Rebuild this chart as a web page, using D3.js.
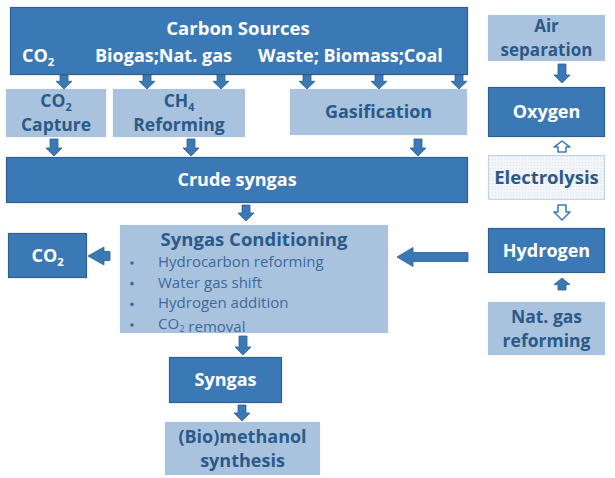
<!DOCTYPE html>
<html lang="en">
<head>
  <meta charset="UTF-8">
  <title>Methanol from syngas</title>
  <script src="https://d3js.org/d3.v7.min.js"></script>
  <style>
    body { margin: 0; background: #fff; }
    svg text { font-family: "Open Sans", Lato, sans-serif; }
  </style>
</head>
<body>
<div id="chart"></div>
<script>
  // labels (underscore marks a subscript digit)
  const sourceTitle = "Carbon Sources"
  const sourceLabels = ["CO_2", "Biogas;Nat. gas", "Waste; Biomass;Coal"]
  const processLabels = [["CO_2", "Capture"], ["CH_4", "Reforming"], ["Gasification"]]
  const crudeLabel = ["Crude syngas"]
  const conditioningTitle = "Syngas Conditioning"
  const conditioningSteps = ["Hydrocarbon reforming", "Water gas shift", "Hydrogen addition", "CO_2 removal"]
  const co2OutLabel = ["CO_2"]
  const syngasLabel = ["Syngas"]
  const productLabel = ["(Bio)methanol", "synthesis"]
  const sideLabels = [["Air", "separation"], ["Oxygen"], ["Electrolysis"], ["Hydrogen"], ["Nat. gas", "reforming"]]

  const W = 615, H = 478
  const DARK = "#3b79b6", DARK_EDGE = "#2d5f91", LIGHT = "#a9c3df", NAVY = "#2b5a88"

  const svg = d3.select("#chart").append("svg").attr("width", W).attr("height", H)

  // faint dotted texture for the electrolysis box
  const pat = svg.append("defs").append("pattern")
    .attr("id", "dots").attr("width", 3).attr("height", 3)
    .attr("patternUnits", "userSpaceOnUse")
  pat.append("rect").attr("width", 3).attr("height", 3).attr("fill", "#f1f4f9")
  pat.append("rect").attr("width", 1).attr("height", 1).attr("fill", "#dde5ef")

  // box layout
  const boxes = [
    {x: 10, y: 7, w: 458, h: 68, kind: "dark", lines: [], size: 18},
    {x: 6, y: 89, w: 100, h: 48, kind: "light", lines: processLabels[0], size: 17.5},
    {x: 113, y: 89, w: 132, h: 48, kind: "light", lines: processLabels[1], size: 17.5},
    {x: 290, y: 89, w: 177, h: 46, kind: "light", lines: processLabels[2], size: 18},
    {x: 6, y: 157, w: 462, h: 46, kind: "dark", lines: crudeLabel, size: 18},
    {x: 120, y: 225, w: 268, h: 108, kind: "light", lines: [], size: 18},
    {x: 8, y: 233, w: 79, h: 45, kind: "dark", lines: co2OutLabel, size: 18},
    {x: 169, y: 357, w: 113, h: 46, kind: "dark", lines: syngasLabel, size: 18},
    {x: 165, y: 422, w: 155, h: 53, kind: "light", lines: productLabel, size: 18},
    {x: 488, y: 15, w: 117, h: 46, kind: "light", lines: sideLabels[0], size: 17},
    {x: 488, y: 87, w: 117, h: 50, kind: "dark", lines: sideLabels[1], size: 18},
    {x: 488, y: 155, w: 117, h: 45, kind: "pale", lines: sideLabels[2], size: 18.5},
    {x: 488, y: 228, w: 117, h: 45, kind: "dark", lines: sideLabels[3], size: 18},
    {x: 488, y: 302, w: 117, h: 53, kind: "light", lines: sideLabels[4], size: 17.5}
  ]

  // arrows: centre x, start y, end y (or x for horizontal), style
  const arrows = [
    {x: 64, y0: 75, y1: 89}, {x: 147, y0: 75, y1: 89}, {x: 221, y0: 75, y1: 89},
    {x: 307, y0: 75, y1: 89}, {x: 379, y0: 75, y1: 89}, {x: 459, y0: 75, y1: 89},
    {x: 54, y0: 139, y1: 156}, {x: 191, y0: 139, y1: 156}, {x: 418, y0: 139, y1: 156},
    {x: 246, y0: 205, y1: 221},
    {x: 243, y0: 336, y1: 355},
    {x: 242, y0: 405, y1: 421},
    {x: 562, y0: 64, y1: 83},
    {x: 562, y0: 152, y1: 141, hollow: true},
    {x: 562, y0: 205, y1: 220, hollow: true},
    {x: 562, y0: 290, y1: 278},
    {y: 256, x0: 110, x1: 88, head: 16, shaft: 9, headW: 18},
    {y: 257, x0: 468, x1: 397, head: 16, shaft: 9, headW: 19}
  ]

  const fills = {dark: DARK, light: LIGHT, pale: "url(#dots)"}
  const edges = {dark: DARK_EDGE, light: LIGHT, pale: "#c5d3e4"}
  const inks = {dark: "#ffffff", light: NAVY, pale: NAVY}

  svg.selectAll("rect.box")
    .data(boxes)
    .join("rect")
    .attr("class", "box")
    .attr("x", d => d.x + 0.5).attr("y", d => d.y + 0.5)
    .attr("width", d => d.w - 1).attr("height", d => d.h - 1)
    .attr("fill", d => fills[d.kind])
    .attr("stroke", d => edges[d.kind])
    .attr("stroke-width", 1.2)

  // text with subscripts
  function addLabel(sel, str, size) {
    const parts = str.split(/_(\d)/)
    parts.forEach((p, i) => {
      if (!p) return
      if (i % 2 === 1) {
        sel.append("tspan").attr("font-size", size * 0.62).attr("dy", size * 0.2).text(p)
        sel.append("tspan").attr("dy", -size * 0.2).text("")
      } else {
        sel.append("tspan").text(p)
      }
    })
  }

  boxes.forEach(b => {
    const n = b.lines.length
    const lh = b.size * 1.38
    b.lines.forEach((ln, i) => {
      const t = svg.append("text")
        .attr("x", b.x + b.w / 2)
        .attr("y", b.y + b.h / 2 + (i - (n - 1) / 2) * lh + b.size * 0.36)
        .attr("text-anchor", "middle")
        .attr("font-size", b.size)
        .attr("font-weight", "bold")
        .attr("fill", inks[b.kind])
      addLabel(t, ln, b.size)
    })
  })

  // carbon sources header
  svg.append("text").attr("x", 238).attr("y", 35)
    .attr("text-anchor", "middle").attr("font-size", 18.5).attr("font-weight", "bold")
    .attr("fill", "#fff").text(sourceTitle)
  const srcX = [22, 95, 258]
  sourceLabels.forEach((s, i) => {
    const t = svg.append("text").attr("x", srcX[i]).attr("y", 62)
      .attr("font-size", 18).attr("font-weight", "bold").attr("fill", "#fff")
    addLabel(t, s, 18)
  })

  // syngas conditioning contents
  svg.append("text").attr("x", 254).attr("y", 246)
    .attr("text-anchor", "middle").attr("font-size", 18.5).attr("font-weight", "bold")
    .attr("fill", NAVY).text(conditioningTitle)
  const stepY = d3.scalePoint().domain(conditioningSteps).range([267, 329])
  conditioningSteps.forEach(s => {
    svg.append("circle").attr("cx", 132).attr("cy", stepY(s) - 4).attr("r", 1.8).attr("fill", "#3c6a98")
    const t = svg.append("text").attr("x", 158).attr("y", stepY(s))
      .attr("font-size", 15).attr("fill", "#3c6a98")
    addLabel(t, s, 15)
  })

  // block arrows
  function vArrow(a) {
    const dir = a.y1 > a.y0 ? 1 : -1
    const len = Math.abs(a.y1 - a.y0)
    const sw = 4, hw = 8, hl = Math.min(8, len * 0.55)
    const yh = a.y1 - dir * hl
    return `M${a.x - sw},${a.y0} L${a.x + sw},${a.y0} L${a.x + sw},${yh} L${a.x + hw},${yh}
      L${a.x},${a.y1} L${a.x - hw},${yh} L${a.x - sw},${yh} Z`
  }
  function hArrow(a) {
    const dir = a.x1 > a.x0 ? 1 : -1
    const sw = a.shaft / 2, hw = a.headW / 2
    const xh = a.x1 - dir * a.head
    return `M${a.x0},${a.y - sw} L${xh},${a.y - sw} L${xh},${a.y - hw} L${a.x1},${a.y}
      L${xh},${a.y + hw} L${xh},${a.y + sw} L${a.x0},${a.y + sw} Z`
  }

  svg.selectAll("path.arrow")
    .data(arrows)
    .join("path")
    .attr("class", "arrow")
    .attr("d", d => d.y !== undefined ? hArrow(d) : vArrow(d))
    .attr("fill", d => d.hollow ? "#fff" : DARK)
    .attr("stroke", d => d.hollow ? DARK : DARK_EDGE)
    .attr("stroke-width", d => d.hollow ? 1.5 : 0.8)
    .attr("stroke-linejoin", "round")
</script>
</body>
</html>
